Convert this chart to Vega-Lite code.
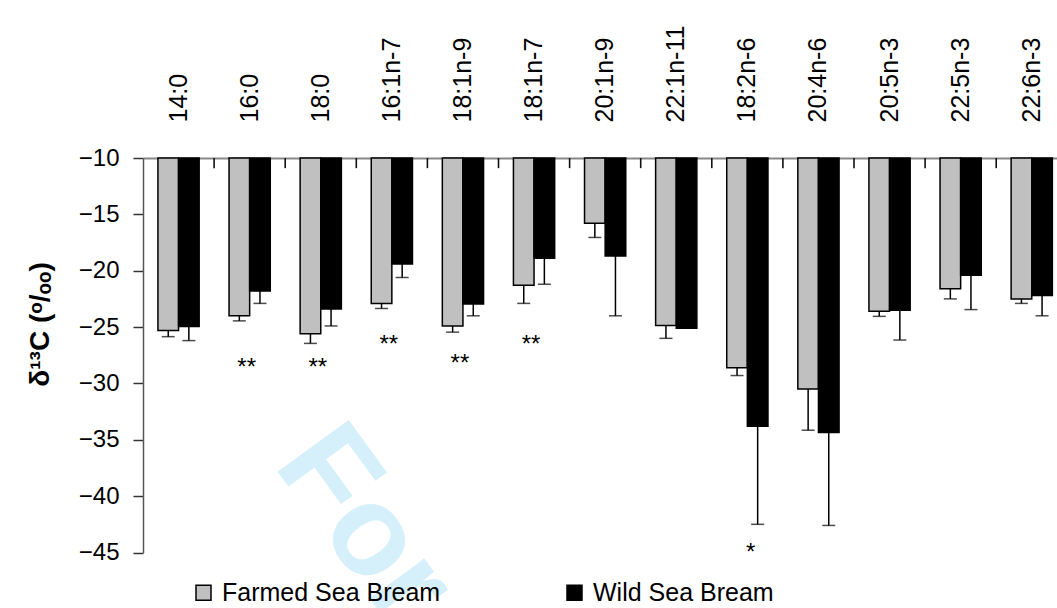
{
  "$schema": "https://vega.github.io/schema/vega-lite/v6.json",
  "width": 914,
  "height": 394.5,
  "autosize": {"type": "none"},
  "padding": {"left": 143, "top": 158, "right": 0, "bottom": 55.5},
  "background": "white",
  "config": {
    "view": {"stroke": null},
    "font": "Liberation Sans",
    "axis": {"labelFont": "Liberation Sans", "titleFont": "Liberation Sans", "labelColor": "black", "titleColor": "black", "grid": false},
    "legend": {"labelFont": "Liberation Sans"}
  },
  "resolve": {"scale": {"x": "independent"}, "axis": {"x": "independent"}},
  "datasets": {
    "bars": [
      {"fa": "14:0", "group": "Farmed Sea Bream", "value": -25.3, "low": -25.85},
      {"fa": "14:0", "group": "Wild Sea Bream", "value": -24.95, "low": -26.2},
      {"fa": "16:0", "group": "Farmed Sea Bream", "value": -24.0, "low": -24.45},
      {"fa": "16:0", "group": "Wild Sea Bream", "value": -21.8, "low": -22.9},
      {"fa": "18:0", "group": "Farmed Sea Bream", "value": -25.6, "low": -26.45},
      {"fa": "18:0", "group": "Wild Sea Bream", "value": -23.4, "low": -24.9},
      {"fa": "16:1n-7", "group": "Farmed Sea Bream", "value": -22.9, "low": -23.35},
      {"fa": "16:1n-7", "group": "Wild Sea Bream", "value": -19.4, "low": -20.6},
      {"fa": "18:1n-9", "group": "Farmed Sea Bream", "value": -24.9, "low": -25.45},
      {"fa": "18:1n-9", "group": "Wild Sea Bream", "value": -22.95, "low": -24.0},
      {"fa": "18:1n-7", "group": "Farmed Sea Bream", "value": -21.3, "low": -22.9},
      {"fa": "18:1n-7", "group": "Wild Sea Bream", "value": -18.9, "low": -21.2},
      {"fa": "20:1n-9", "group": "Farmed Sea Bream", "value": -15.8, "low": -17.05},
      {"fa": "20:1n-9", "group": "Wild Sea Bream", "value": -18.7, "low": -24.0},
      {"fa": "22:1n-11", "group": "Farmed Sea Bream", "value": -24.85, "low": -26.0},
      {"fa": "22:1n-11", "group": "Wild Sea Bream", "value": -25.1, "low": -25.1},
      {"fa": "18:2n-6", "group": "Farmed Sea Bream", "value": -28.6, "low": -29.3},
      {"fa": "18:2n-6", "group": "Wild Sea Bream", "value": -33.8, "low": -42.5},
      {"fa": "20:4n-6", "group": "Farmed Sea Bream", "value": -30.5, "low": -34.15},
      {"fa": "20:4n-6", "group": "Wild Sea Bream", "value": -34.35, "low": -42.6},
      {"fa": "20:5n-3", "group": "Farmed Sea Bream", "value": -23.6, "low": -24.05},
      {"fa": "20:5n-3", "group": "Wild Sea Bream", "value": -23.5, "low": -26.15},
      {"fa": "22:5n-3", "group": "Farmed Sea Bream", "value": -21.6, "low": -22.5},
      {"fa": "22:5n-3", "group": "Wild Sea Bream", "value": -20.4, "low": -23.45},
      {"fa": "22:6n-3", "group": "Farmed Sea Bream", "value": -22.5, "low": -22.9},
      {"fa": "22:6n-3", "group": "Wild Sea Bream", "value": -22.2, "low": -24.0}
    ],
    "bounds": [
      {"b": 1}, {"b": 2}, {"b": 3}, {"b": 4}, {"b": 5}, {"b": 6},
      {"b": 7}, {"b": 8}, {"b": 9}, {"b": 10}, {"b": 11}, {"b": 12}
    ],
    "sig2": [
      {"fa": "16:0", "mark": "**", "pos": -27.8},
      {"fa": "18:0", "mark": "**", "pos": -27.8},
      {"fa": "16:1n-7", "mark": "**", "pos": -25.8},
      {"fa": "18:1n-9", "mark": "**", "pos": -27.45},
      {"fa": "18:1n-7", "mark": "**", "pos": -25.8}
    ],
    "sig1": [
      {"fa": "18:2n-6", "group": "Wild Sea Bream", "mark": "*", "pos": -44.25}
    ],
    "wm": [
      {"fa": "16:0", "label": "For", "pos": -34.42}
    ]
  },
  "layer": [
    {
      "data": {"name": "bounds"},
      "mark": {"type": "rule", "color": "#111111", "strokeWidth": 1.6},
      "encoding": {
        "x": {"field": "b", "type": "quantitative", "axis": null,
              "scale": {"domain": [0, 13], "range": [0, 924.3], "nice": false, "zero": false}},
        "y": {"datum": -10, "type": "quantitative", "scale": {"domain": [-45, -10], "nice": false, "zero": false}},
        "y2": {"datum": -10.9}
      }
    },
    {
      "encoding": {
        "x": {
          "field": "fa", "type": "nominal", "sort": null,
          "scale": {
            "type": "band",
            "domain": ["14:0","16:0","18:0","16:1n-7","18:1n-9","18:1n-7","20:1n-9","22:1n-11","18:2n-6","20:4n-6","20:5n-3","22:5n-3","22:6n-3"],
            "range": [0, 924.3],
            "paddingInner": 0.42, "paddingOuter": 0.21
          },
          "axis": {
            "orient": "top", "title": null,
            "domainColor": "#888888", "domainWidth": 2, "ticks": false,
            "labelAngle": 270, "labelAlign": "left", "labelBaseline": "middle",
            "labelPadding": 36, "labelFontSize": 25
          }
        }
      },
      "layer": [
        {
          "data": {"name": "wm"},
          "mark": {"type": "text", "angle": 54, "align": "left", "baseline": "alphabetic", "fontSize": 128, "fontWeight": "bold", "color": "#D6F0FB", "dx": 39},
          "encoding": {
            "y": {"field": "pos", "type": "quantitative"},
            "text": {"field": "label"}
          }
        },
        {
          "data": {"name": "bars"},
          "mark": {"type": "bar", "stroke": "black", "strokeWidth": 1.5},
          "encoding": {
            "xOffset": {"field": "group", "type": "nominal", "scale": {"paddingInner": 0, "paddingOuter": 0}},
            "y": {
              "field": "value", "type": "quantitative",
              "scale": {"domain": [-45, -10], "nice": false, "zero": false},
              "axis": {
                "title": "δ¹³C (ᵒ/ₒₒ)", "values": [-45, -40, -35, -30, -25, -20, -15, -10],
                "domainColor": "#555555", "domainWidth": 1.5,
                "tickColor": "#333333", "tickSize": 10, "tickWidth": 1.5,
                "labelFontSize": 24, "labelPadding": 14,
                "titleFontSize": 28, "titleFontWeight": "bold", "titleAngle": 270,
                "titleX": -95, "titleY": 166, "titleAlign": "center", "titleBaseline": "alphabetic"
              }
            },
            "y2": {"datum": -10},
            "color": {
              "field": "group", "type": "nominal",
              "scale": {"domain": ["Farmed Sea Bream", "Wild Sea Bream"], "range": ["#C0C0C0", "#000000"]},
              "legend": {
                "title": null, "orient": "none", "direction": "horizontal", "columns": 2,
                "legendX": 48, "legendY": 422, "padding": 0,
                "symbolType": "square", "symbolSize": 225, "symbolStrokeColor": "black", "symbolStrokeWidth": 1.5,
                "labelFontSize": 25, "labelColor": "black", "labelOffset": 6, "columnPadding": 121, "labelLimit": 400
              }
            }
          }
        },
        {
          "data": {"name": "bars"},
          "mark": {"type": "rule", "color": "black", "strokeWidth": 1.5},
          "encoding": {
            "xOffset": {"field": "group", "type": "nominal"},
            "y": {"field": "value", "type": "quantitative"},
            "y2": {"field": "low"}
          }
        },
        {
          "data": {"name": "bars"},
          "mark": {"type": "tick", "orient": "horizontal", "color": "black", "size": 13, "thickness": 1.5},
          "encoding": {
            "xOffset": {"field": "group", "type": "nominal"},
            "y": {"field": "low", "type": "quantitative"}
          }
        },
        {
          "data": {"name": "sig2"},
          "mark": {"type": "text", "fontSize": 24, "color": "black", "baseline": "alphabetic", "dy": 16, "dx": -3},
          "encoding": {
            "y": {"field": "pos", "type": "quantitative"},
            "text": {"field": "mark"}
          }
        },
        {
          "data": {"name": "sig1"},
          "mark": {"type": "text", "fontSize": 24, "color": "black", "baseline": "alphabetic", "dy": 16, "dx": -7},
          "encoding": {
            "xOffset": {"field": "group", "type": "nominal"},
            "y": {"field": "pos", "type": "quantitative"},
            "text": {"field": "mark"}
          }
        }
      ]
    }
  ]
}
